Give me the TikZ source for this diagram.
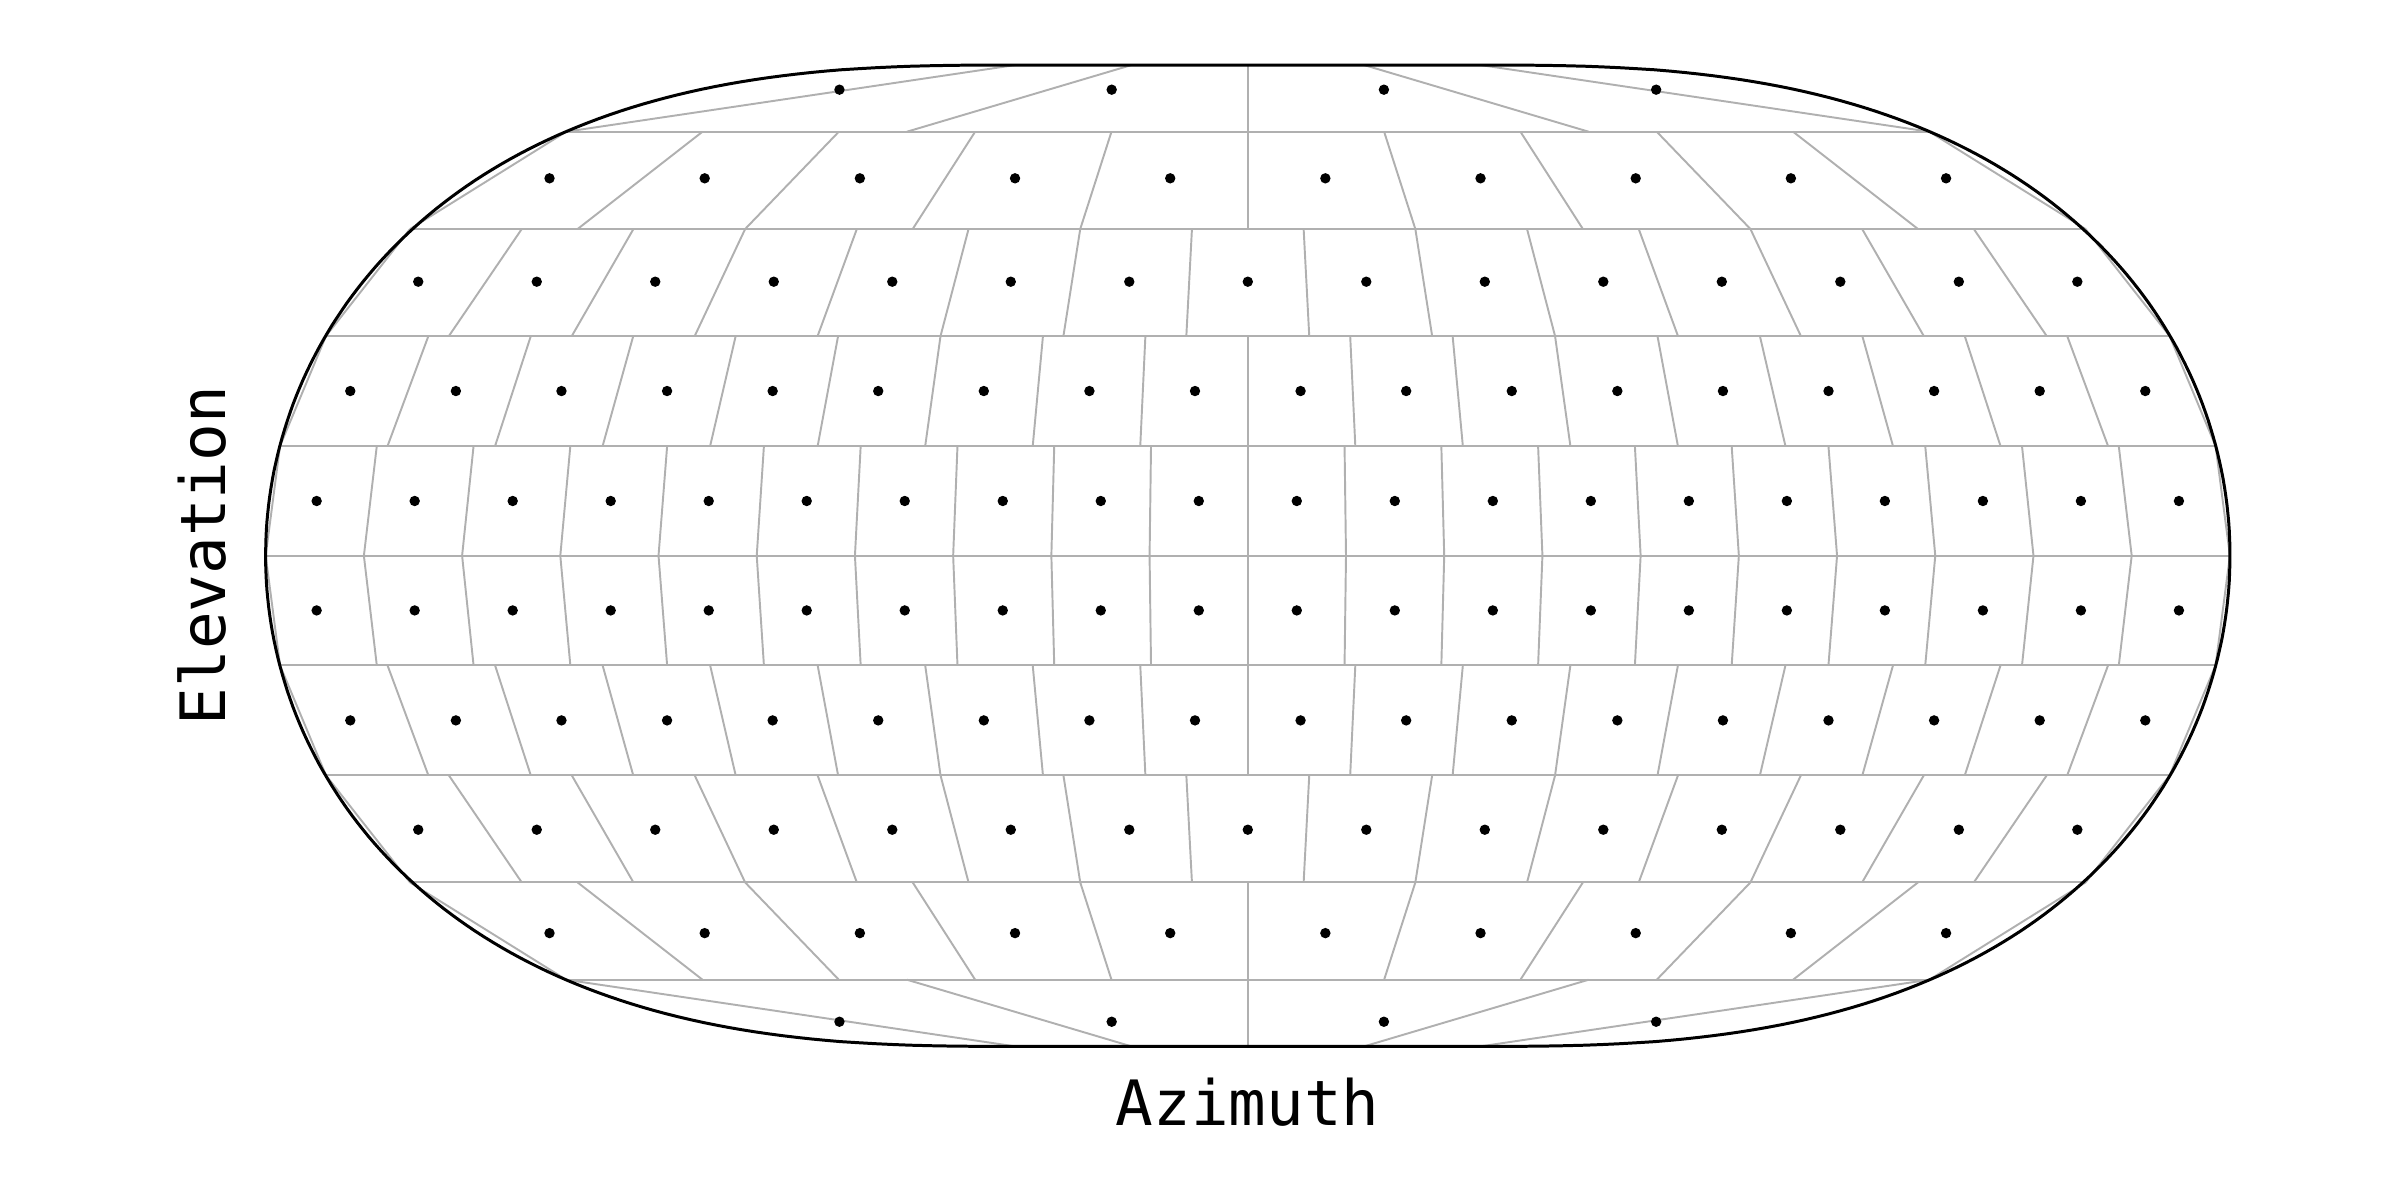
\documentclass[tikz,border=0pt]{standalone}
\usepackage{fontspec}
\newfontfamily\axisfont{DejaVu Sans Mono}
\usepackage{tikz}
\definecolor{gridgray}{HTML}{B0B0B0}

\begin{document}
\begin{tikzpicture}[
  x=9.821cm, y=4.907cm,
  cellline/.style={draw=gridgray, line width=0.55pt},
  rim/.style={draw=black, line width=0.85pt, line join=round},
  centre/.style={fill=black},
  axislabel/.style={font=\axisfont\fontsize{17.8}{21}\selectfont, inner sep=0pt}
]
\useasboundingbox (-1.27054,-1.31302) rectangle (1.17320,1.13246);

% bands: cells / top h / top half-width / bottom h / bottom half-width / dot h / dot half-width
\foreach \s in {1,-1}{
  \foreach \cells/\ytop/\wtop/\ybot/\wbot/\ydot/\wdot in {
      4/1.0/0.2366/0.8641/0.694/0.9497/0.5544,
      10/0.8641/0.694/0.6658/0.853/0.7691/0.790,
      15/0.6658/0.853/0.4477/0.9386/0.5584/0.905,
      18/0.4477/0.9386/0.2236/0.9854/0.3356/0.9676,
      20/0.2236/0.9854/0/1/0.1115/0.998}{
    % horizontal edges of the band
    \draw[cellline] ({-\wtop},{\s*\ytop}) -- ({\wtop},{\s*\ytop});
    \draw[cellline] ({-\wbot},{\s*\ybot}) -- ({\wbot},{\s*\ybot});
    % sides of the cells
    \foreach \k in {0,...,\cells}{
      \pgfmathsetmacro\lam{-1+2*\k/\cells}
      \draw[cellline] ({\wtop*\lam},{\s*\ytop}) -- ({\wbot*\lam},{\s*\ybot});
    }
    % cell centres
    \pgfmathtruncatemacro\last{\cells-1}
    \foreach \k in {0,...,\last}{
      \pgfmathsetmacro\lam{-1+(2*\k+1)/\cells}
      \fill[centre] ({\wdot*\lam},{\s*\ydot}) circle[radius=0.052cm];
    }
  }
}

% outline
\draw[rim] plot[domain=-89.99:89.99, samples=181]
    ({0.2366+0.7634*pow(cos(\x),0.7452)},{sin(\x)})
  -- plot[domain=89.99:-89.99, samples=181]
    ({-0.2366-0.7634*pow(cos(\x),0.7452)},{sin(\x)}) -- cycle;

% axis labels
\node[axislabel, anchor=base] (azimuth) at (0,-1.1602) {Azimuth};
\node[axislabel, anchor=base, rotate=90] (elevation) at (-1.0414,0) {Elevation};

\end{tikzpicture}
\end{document}
